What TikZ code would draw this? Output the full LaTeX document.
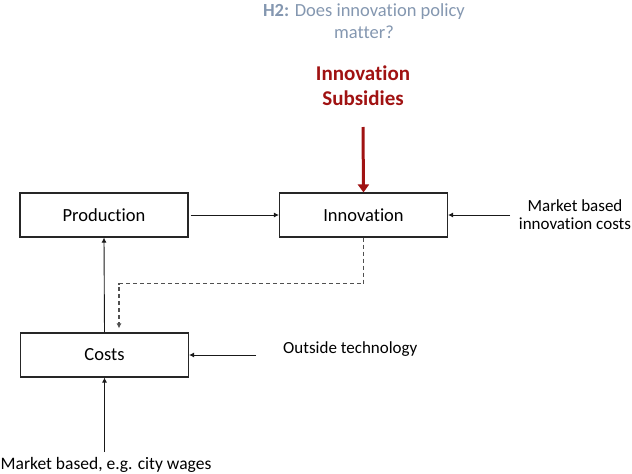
\documentclass[tikz,border=0pt]{standalone}
\usepackage{fontspec}
\setmainfont{Carlito}[Ligatures={NoCommon}]
\usetikzlibrary{arrows.meta}
\definecolor{titleblue}{RGB}{132,151,176}
\definecolor{subred}{RGB}{160,18,18}
\definecolor{dashgray}{RGB}{80,80,80}
\begin{document}
\begin{tikzpicture}[x=1pt,y=-1pt,
  box/.style={draw=black!85,line width=1.1pt,minimum width=168pt,minimum height=44pt,inner sep=0pt,font=\fontsize{18.5}{22}\selectfont},
  lbl/.style={align=center,inner sep=0pt,font=\fontsize{17}{18}\selectfont},
  arr/.style={line width=0.9pt,draw=black!90,-{Latex[length=5pt,width=5pt]}},
  dashline/.style={line width=1.2pt,draw=dashgray,dash pattern=on 4pt off 3pt,-{Latex[length=5pt,width=5pt]}}
]
\useasboundingbox (0,0) rectangle (632,474);
\node[box] (prod) at (104,215) {Production};
\node[box] (innov) at (363.5,215) {Innovation};
\node[box] (costs) at (104.5,355) {Costs};
\node[align=center,inner sep=0pt,text=titleblue,font=\fontsize{18.5}{22}\selectfont] (h2) at (364,21) {\textbf{H2:} Does innovation policy\\matter?};
\node[align=center,inner sep=0pt,text=subred,font=\fontsize{21}{25}\selectfont\bfseries] (subs) at (363,86) {Innovation\\Subsidies};
\node[lbl] (mbic) at (575,215) {Market based\\innovation costs};
\node[lbl,anchor=west] (outside) at (283,349) {Outside technology};
\node[lbl,font=\fontsize{17.5}{20}\selectfont] (wages) at (106,465) {Market based, e.g. city wages};
\coordinate (subsS) at (363,127);
\coordinate (mbicW) at (510,215);
\coordinate (outW) at (256,355);
\coordinate (wagesN) at (104.5,452);
\draw[arr] (prod.east) ++(2,0) -- (innov.west);
\draw[arr] (mbicW) -- (innov.east);
\draw[line width=3pt,draw=subred,-{Triangle[length=8pt,width=11pt]}] (subsS) -- (innov.north);
\draw[arr] (costs.north) -- (prod.south);
\draw[dashline] (innov.south) -- ++(0,46) -| ([xshift=14.5pt,yshift=4pt]costs.north);
\draw[arr] (outW) -- (costs.east);
\draw[arr] (wagesN) -- (costs.south);
\end{tikzpicture}
\end{document}
